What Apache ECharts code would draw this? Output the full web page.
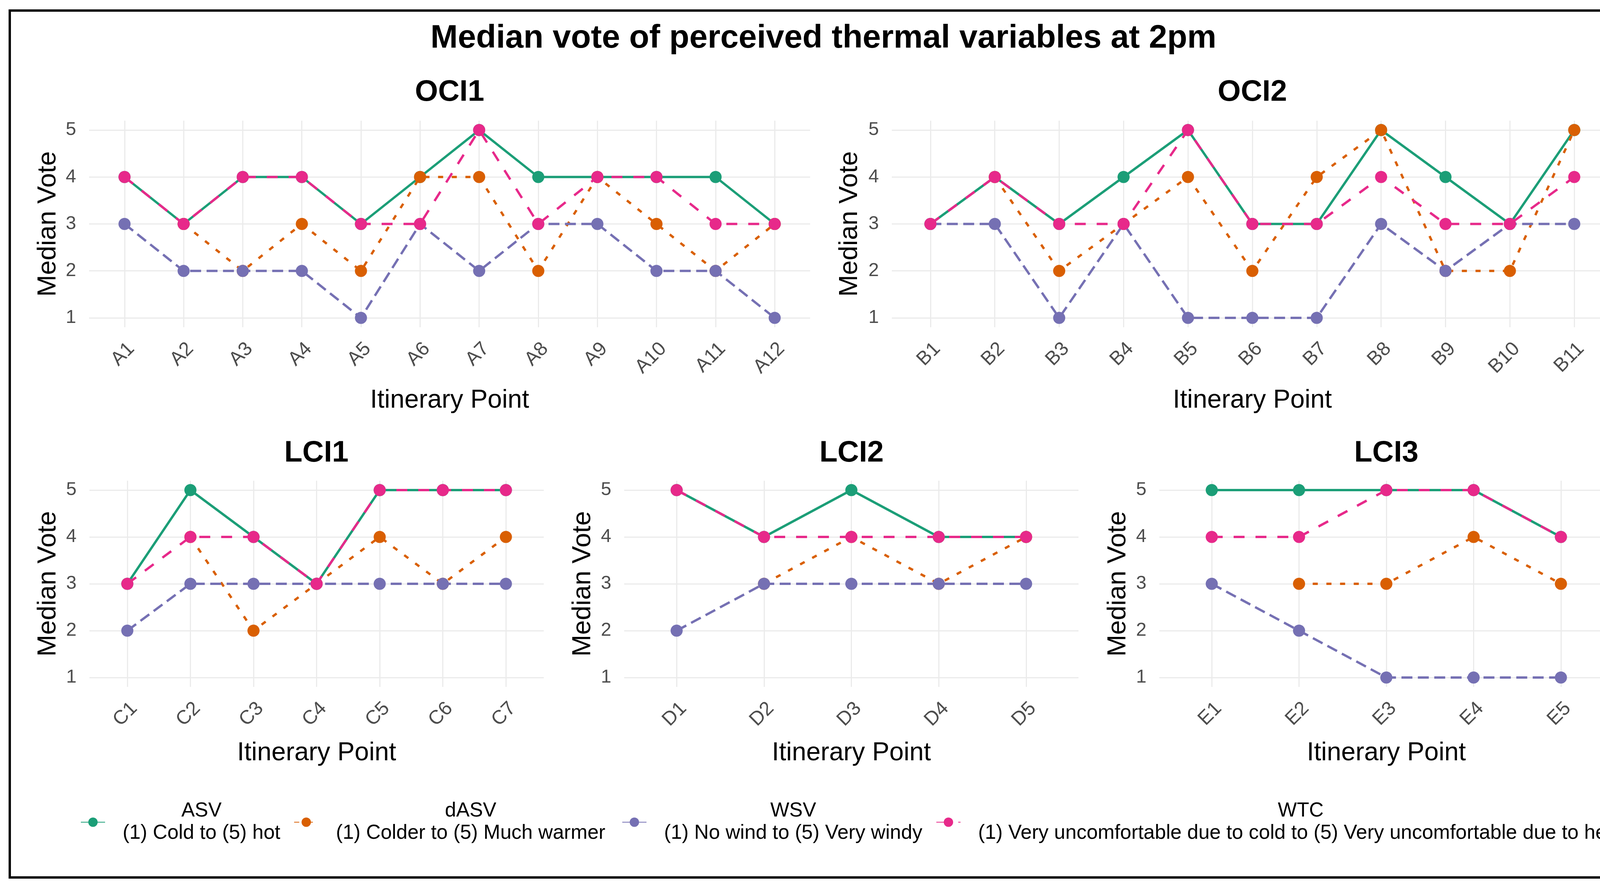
<!DOCTYPE html>
<html><head><meta charset="utf-8">
<script src="https://cdn.jsdelivr.net/npm/echarts@6/dist/echarts.min.js"></script>
<style>html,body{margin:0;padding:0;background:#fff}#c{width:4216px;height:2274px}</style>
</head><body><div id="c"></div>
<script>
const FONT = 'Liberation Sans, Arial, sans-serif';
const mainTitle = 'Median vote of perceived thermal variables at 2pm';
const yTicks = [1, 2, 3, 4, 5];
const seriesNames = ['ASV', 'dASV', 'WSV', 'WTC'];
const legendDesc = ['(1) Cold to (5) hot', '(1) Colder to (5) Much warmer', '(1) No wind to (5) Very windy', '(1) Very uncomfortable due to cold to (5) Very uncomfortable due to heat'];

// OCI1
const oci1Cats = ['A1','A2','A3','A4','A5','A6','A7','A8','A9','A10','A11','A12'];
const oci1ASV  = [4,3,4,4,3,4,5,4,4,4,4,3];
const oci1dASV = [null,3,2,3,2,4,4,2,4,3,2,3];
const oci1WSV  = [3,2,2,2,1,3,2,3,3,2,2,1];
const oci1WTC  = [4,3,4,4,3,3,5,3,4,4,3,3];
// OCI2
const oci2Cats = ['B1','B2','B3','B4','B5','B6','B7','B8','B9','B10','B11'];
const oci2ASV  = [3,4,3,4,5,3,3,5,4,3,5];
const oci2dASV = [null,4,2,3,4,2,4,5,2,2,5];
const oci2WSV  = [3,3,1,3,1,1,1,3,2,3,3];
const oci2WTC  = [3,4,3,3,5,3,3,4,3,3,4];
// LCI1
const lci1Cats = ['C1','C2','C3','C4','C5','C6','C7'];
const lci1ASV  = [3,5,4,3,5,5,5];
const lci1dASV = [null,4,2,3,4,3,4];
const lci1WSV  = [2,3,3,3,3,3,3];
const lci1WTC  = [3,4,4,3,5,5,5];
// LCI2
const lci2Cats = ['D1','D2','D3','D4','D5'];
const lci2ASV  = [5,4,5,4,4];
const lci2dASV = [null,3,4,3,4];
const lci2WSV  = [2,3,3,3,3];
const lci2WTC  = [5,4,4,4,4];
// LCI3
const lci3Cats = ['E1','E2','E3','E4','E5'];
const lci3ASV  = [5,5,5,5,4];
const lci3dASV = [null,3,3,4,3];
const lci3WSV  = [3,2,1,1,1];
const lci3WTC  = [4,4,5,5,4];

const panels = [
  {title:'OCI1', cats:oci1Cats, vals:[oci1ASV,oci1dASV,oci1WSV,oci1WTC], left:228,  top:309,  width:1846, height:529, tx:1151, ty:237, gap:155, ygap:71},
  {title:'OCI2', cats:oci2Cats, vals:[oci2ASV,oci2dASV,oci2WSV,oci2WTC], left:2283, top:309,  width:1846, height:529, tx:3206, ty:237, gap:155, ygap:74},
  {title:'LCI1', cats:lci1Cats, vals:[lci1ASV,lci1dASV,lci1WSV,lci1WTC], left:229,  top:1231, width:1163, height:528, tx:810,  ty:1161, gap:137, ygap:72},
  {title:'LCI2', cats:lci2Cats, vals:[lci2ASV,lci2dASV,lci2WSV,lci2WTC], left:1598, top:1231, width:1163, height:528, tx:2180, ty:1161, gap:137, ygap:72},
  {title:'LCI3', cats:lci3Cats, vals:[lci3ASV,lci3dASV,lci3WSV,lci3WTC], left:2968, top:1231, width:1162, height:528, tx:3549, ty:1161, gap:137, ygap:72}
];

const colors = ['#1B9E77', '#D95F02', '#7570B3', '#E7298A'];
const dashes = ['solid', [13, 22], [28, 14], [28, 28]];
const legendLeft = [201, 747, 1587, 2391];

const grids = [], xAxes = [], yAxes = [], series = [], graphics = [];
panels.forEach((p, pi) => {
  grids.push({left: p.left, top: p.top, width: p.width, height: p.height, containLabel: false});
  const idx = p.cats.map((c, i) => i);
  xAxes.push({
    type: 'value', gridIndex: pi, min: -0.6, max: p.cats.length - 0.4,
    axisLine: {show: false}, axisTick: {show: false, customValues: idx},
    axisLabel: {customValues: idx, formatter: v => p.cats[Math.round(v)], rotate: 45, fontSize: 50,
      verticalAlign: 'top', color: '#4D4D4D', fontFamily: FONT, margin: 30},
    splitLine: {show: true, lineStyle: {color: '#EBEBEB', width: 3}},
    name: 'Itinerary Point', nameLocation: 'middle', nameGap: p.gap, nameMoveOverlap: false,
    nameTextStyle: {fontSize: 66, color: '#000', fontFamily: FONT}
  });
  yAxes.push({
    type: 'value', gridIndex: pi, min: 0.8, max: 5.2,
    axisLine: {show: false}, axisTick: {show: false, customValues: yTicks},
    axisLabel: {customValues: yTicks, fontSize: 48, color: '#4D4D4D', fontFamily: FONT, margin: 33},
    splitLine: {show: true, lineStyle: {color: '#EBEBEB', width: 3}},
    name: 'Median Vote', nameLocation: 'middle', nameGap: p.ygap, nameMoveOverlap: false,
    nameTextStyle: {fontSize: 67, color: '#000', fontFamily: FONT}
  });
  p.vals.forEach((arr, si) => {
    series.push({
      type: 'line', name: seriesNames[si], xAxisIndex: pi, yAxisIndex: pi,
      data: arr.map((v, i) => [i, v]),
      symbol: 'circle', symbolSize: 31, showSymbol: true,
      itemStyle: {color: colors[si]},
      lineStyle: {color: colors[si], width: 6, type: dashes[si]},
      z: 2 + si, animation: false
    });
  });
  graphics.push({type: 'text', style: {text: p.title, x: p.tx, y: p.ty, textAlign: 'center', textVerticalAlign: 'middle',
    font: 'bold 76px ' + FONT, fill: '#000'}});
});

graphics.push({type: 'text', style: {text: mainTitle, x: 2108, y: 99, textAlign: 'center', textVerticalAlign: 'middle',
  font: 'bold 84px ' + FONT, fill: '#000'}});
graphics.push({type: 'rect', shape: {x: 25, y: 27, width: 4162, height: 2220}, style: {fill: 'none', stroke: '#000', lineWidth: 6}, z: 100});

const legends = seriesNames.map((n, i) => ({
  data: [n], left: legendLeft[i], top: 2046, orient: 'horizontal', selectedMode: false,
  itemWidth: 62, itemHeight: 30,
  formatter: name => '{a|' + name + '}\n{b|' + legendDesc[i] + '}',
  textStyle: {padding: [0, 0, 0, 40], rich: {
    a: {fontSize: 51.5, lineHeight: 57, align: 'center', color: '#000', fontFamily: FONT},
    b: {fontSize: 51.5, lineHeight: 57, align: 'center', color: '#000', fontFamily: FONT}
  }}
}));

const chart = echarts.init(document.getElementById('c'));
chart.setOption({
  backgroundColor: '#fff', animation: false,
  textStyle: {fontFamily: FONT},
  grid: grids, xAxis: xAxes, yAxis: yAxes, series: series, legend: legends,
  graphic: graphics
});
</script></body></html>
